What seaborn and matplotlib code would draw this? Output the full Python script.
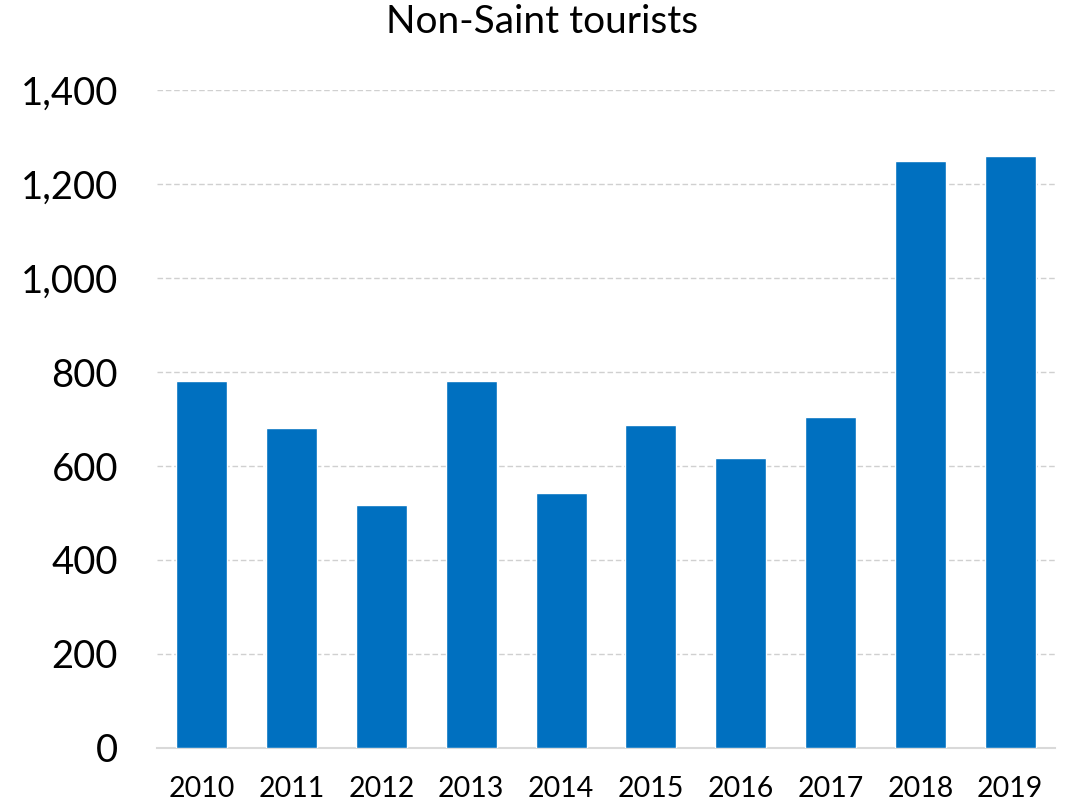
import matplotlib
matplotlib.use("Agg")
import matplotlib.pyplot as plt
import seaborn as sns
import pandas as pd
from matplotlib.ticker import FuncFormatter, MultipleLocator

years = ["2010", "2011", "2012", "2013", "2014", "2015", "2016", "2017", "2018", "2019"]
tourists = [781, 681, 517, 781, 543, 687, 617, 704, 1249, 1260]
title = "Non-Saint tourists"

sns.set_style("white")
plt.rcParams['font.family'] = ['Lato', 'DejaVu Sans']

df = pd.DataFrame({"year": years, "tourists": tourists})

fig = plt.figure(figsize=(10.68, 8.08), dpi=100)
ax = fig.add_axes([157/1068, 60/808, (1055-157)/1068, (748-90)/808])

sns.barplot(data=df, x="year", y="tourists", color="#0070C0", saturation=1,
            width=0.57, ax=ax, zorder=3)

ax.set_ylim(0, 1400)
ax.set_xlim(-0.5, len(years) - 0.5)
ax.yaxis.set_major_locator(MultipleLocator(200))
ax.yaxis.set_major_formatter(FuncFormatter(lambda v, p: f"{int(v):,}"))
ax.grid(axis="y", color="#D0D0D0", linestyle=(0, (4, 2)), linewidth=1, zorder=0)
ax.set_axisbelow(True)
for s in ["top", "right", "left"]:
    ax.spines[s].set_visible(False)
ax.spines["bottom"].set_color("#D9D9D9")
ax.spines["bottom"].set_linewidth(1.5)
ax.set_xlabel("")
ax.set_ylabel("")
ax.tick_params(axis="y", labelsize=27.5, length=0, pad=28, labelcolor="black")
ax.tick_params(axis="x", labelsize=20.5, length=0, pad=20, labelcolor="black")
fig.text(0.508, 1 - 22/808, title, ha="center", va="center", fontsize=28, color="black")

fig.savefig("out.png", dpi=100)
